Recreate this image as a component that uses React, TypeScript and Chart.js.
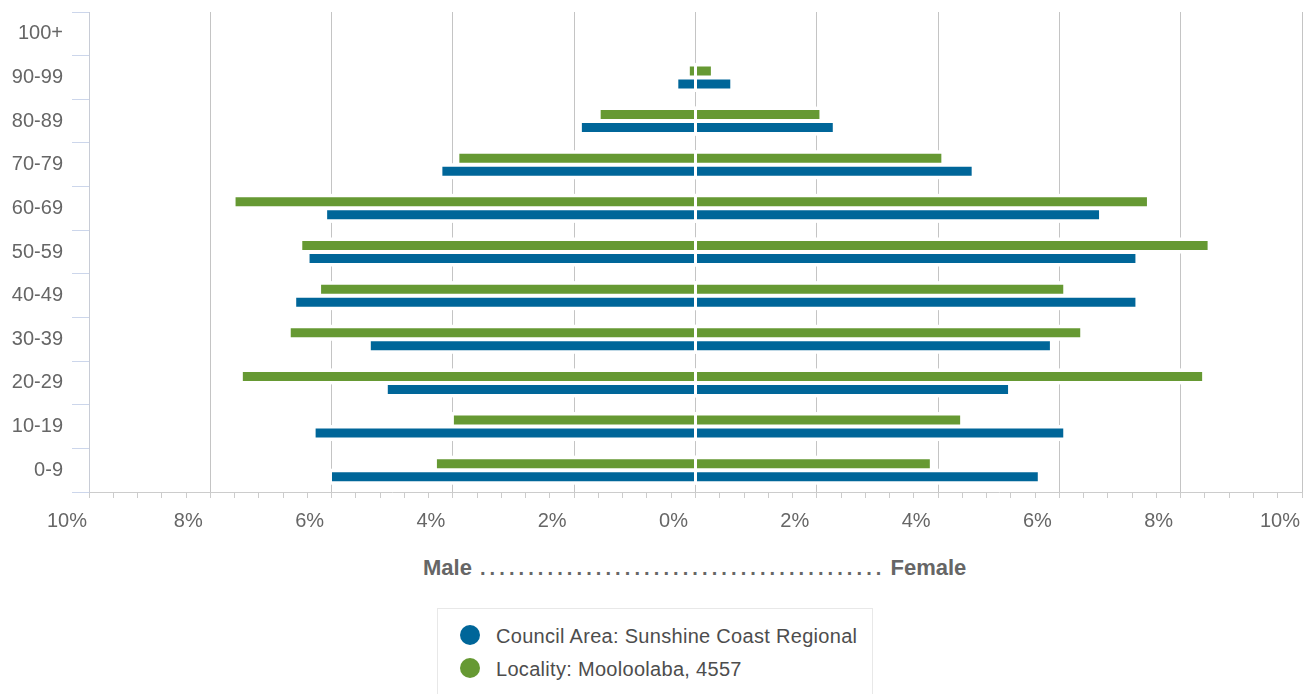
import React, { useEffect, useRef } from 'react';
import { Chart, registerables } from 'chart.js';

Chart.register(...registerables);

// Age groups, top to bottom
const ageGroups = ['100+', '90-99', '80-89', '70-79', '60-69', '50-59', '40-49', '30-39', '20-29', '10-19', '0-9'];

// Locality: Mooloolaba, 4557 (% of population)
const localityMale = [0, 0.11, 1.58, 3.91, 7.6, 6.5, 6.19, 6.69, 7.48, 4.0, 4.28];
const localityFemale = [0, 0.27, 2.06, 4.07, 7.46, 8.46, 6.08, 6.36, 8.37, 4.38, 3.88];

// Council Area: Sunshine Coast Regional (% of population)
const councilMale = [0, 0.3, 1.89, 4.19, 6.09, 6.38, 6.6, 5.37, 5.09, 6.28, 6.01];
const councilFemale = [0, 0.59, 2.28, 4.57, 6.67, 7.27, 7.27, 5.86, 5.17, 6.08, 5.66];

const seriesNames = ['Council Area: Sunshine Coast Regional', 'Locality: Mooloolaba, 4557'];

const BLUE = '#006699';
const GREEN = '#669933';
const FONT = '"Liberation Sans", Arial, sans-serif';

const isMajor = (v: number | undefined) => v !== undefined && Math.abs(v / 2 - Math.round(v / 2)) < 1e-6;

// Clears the grid lines just around each bar (white halo), as in the reference
const barHalo = {
  id: 'barHalo',
  beforeDatasetsDraw(chart: any) {
    const ctx = chart.ctx;
    ctx.save();
    ctx.fillStyle = '#ffffff';
    chart.data.datasets.forEach((_: any, i: number) => {
      const meta = chart.getDatasetMeta(i);
      meta.data.forEach((el: any) => {
        const p = el.getProps(['x', 'y', 'base', 'height'], true);
        const l = Math.min(p.x, p.base);
        const r = Math.max(p.x, p.base);
        if (r - l < 0.5) return;
        ctx.fillRect(l - 1, p.y - p.height / 2 - 2.5, r - l + 2, p.height + 5);
      });
    });
    ctx.restore();
  },
};

export default function App() {
  const ref = useRef<HTMLCanvasElement>(null);

  useEffect(() => {
    if (!ref.current) return;
    Chart.defaults.font.family = FONT;
    const neg = (a: number[]) => a.map((v) => -v);
    const chart = new Chart(ref.current, {
      type: 'bar',
      data: {
        labels: ageGroups,
        datasets: [
          { label: seriesNames[1] + ' (Male)', data: neg(localityMale), backgroundColor: GREEN, stack: 'locality' },
          { label: seriesNames[1] + ' (Female)', data: localityFemale, backgroundColor: GREEN, stack: 'locality' },
          { label: seriesNames[0] + ' (Male)', data: neg(councilMale), backgroundColor: BLUE, stack: 'council' },
          { label: seriesNames[0] + ' (Female)', data: councilFemale, backgroundColor: BLUE, stack: 'council' },
        ],
      },
      plugins: [barHalo],
      options: {
        indexAxis: 'y',
        responsive: false,
        animation: false,
        layout: { padding: { top: 12, right: 5, left: 0, bottom: 0 } },
        datasets: {
          bar: {
            categoryPercentage: 0.596,
            barPercentage: 0.846,
            borderWidth: 1,
            borderColor: '#ffffff',
            borderSkipped: false,
          },
        },
        plugins: { legend: { display: false }, tooltip: { enabled: false } },
        scales: {
          x: {
            type: 'linear',
            min: -10,
            max: 10,
            stacked: true,
            afterFit: (s: any) => {
              s.paddingLeft = 0;
              s.paddingRight = 0;
              s.height = 60;
            },
            ticks: {
              stepSize: 0.4,
              autoSkip: false,
              maxRotation: 0,
              minRotation: 0,
              labelOffset: -22,
              padding: 11,
              color: '#666666',
              font: { size: 20 },
              callback: (v: any) => (isMajor(Number(v)) ? Math.abs(Math.round(Number(v))) + '%' : ''),
            },
            grid: {
              color: (c: any) => (isMajor(c.tick?.value) ? '#c4c4c4' : 'rgba(0,0,0,0)'),
              tickColor: '#cccccc',
              tickLength: 6,
              lineWidth: 1,
            },
            border: { color: '#cccccc', width: 1 },
          },
          y: {
            afterFit: (s: any) => {
              s.width = 89;
              s.paddingTop = 0;
              s.paddingBottom = 0;
            },
            ticks: {
              padding: 9,
              color: '#666666',
              font: { size: 20 },
            },
            grid: {
              offset: true,
              drawOnChartArea: false,
              color: '#ccd6eb',
              tickLength: 17,
            },
            border: { color: '#c8ccd6', width: 1 },
          },
        },
      },
    } as any);
    return () => chart.destroy();
  }, []);

  const dots = '.'.repeat(42);

  return (
    <div
      style={{
        position: 'fixed',
        left: 0,
        top: 0,
        width: 1307,
        height: 694,
        overflow: 'hidden',
        background: '#ffffff',
        fontFamily: FONT,
      }}
    >
      <canvas ref={ref} width={1307} height={552} style={{ position: 'absolute', left: 0, top: 0 }} />
      <div
        style={{
          position: 'absolute',
          left: 423,
          top: 557,
          whiteSpace: 'nowrap',
          color: '#666666',
          lineHeight: '22px',
        }}
      >
        <span style={{ fontWeight: 'bold', fontSize: 22 }}>Male</span>
        <span style={{ fontWeight: 'bold', fontSize: 20, letterSpacing: '4.1px', marginLeft: 8 }}>{dots}</span>
        <span style={{ fontWeight: 'bold', fontSize: 22, marginLeft: 5 }}>Female</span>
      </div>
      <div
        style={{
          position: 'absolute',
          left: 437,
          top: 608,
          width: 436,
          height: 110,
          border: '1px solid #e8e8e8',
          boxSizing: 'border-box',
        }}
      />
      {[BLUE, GREEN].map((col, i) => (
        <React.Fragment key={i}>
          <div
            style={{
              position: 'absolute',
              left: 460,
              top: 625 + i * 33,
              width: 20,
              height: 20,
              borderRadius: '50%',
              background: col,
            }}
          />
          <div
            style={{
              position: 'absolute',
              left: 496,
              top: 626 + i * 33,
              fontSize: 20,
              lineHeight: '20px',
              letterSpacing: '0.3px',
              color: '#4d4d4d',
              whiteSpace: 'nowrap',
            }}
          >
            {seriesNames[i]}
          </div>
        </React.Fragment>
      ))}
    </div>
  );
}
